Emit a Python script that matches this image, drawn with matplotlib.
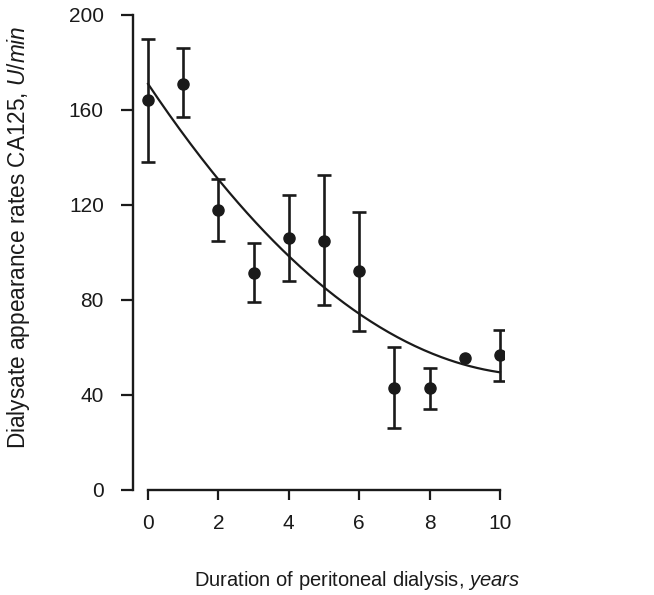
import matplotlib
matplotlib.use("Agg")
import matplotlib.pyplot as plt
import numpy as np

plt.rcParams['font.family'] = ['Liberation Sans', 'DejaVu Sans']
plt.rcParams['mathtext.fontset'] = 'custom'
plt.rcParams['mathtext.rm'] = 'Liberation Sans'
plt.rcParams['mathtext.it'] = 'Liberation Sans:italic'

years = [0, 1, 2, 3, 4, 5, 6, 7, 8, 9, 10]
means = [164, 171, 118, 91.5, 106, 105, 92, 43, 43, 55.5, 57]
upper = [190, 186, 131, 104, 124, 132.5, 117, 60, 51.5, np.nan, 67.5]
lower = [138, 157, 105, 79, 88, 78, 67, 26, 34, np.nan, 46]
fit_coeffs = [0.9975, -22.12, 171.0]  # quadratic fit: c*x^2 + b*x + a
x_ticks = [0, 2, 4, 6, 8, 10]
y_ticks = [0, 40, 80, 120, 160, 200]

ink = '#1a1a1a'
fig = plt.figure(figsize=(6.54, 5.95), dpi=100)
ax = fig.add_axes([0.2034, 0.1765, 0.567, 0.7983])

m = np.array(means, dtype=float)
up = np.array(upper, dtype=float)
lo = np.array(lower, dtype=float)
has_err = ~np.isnan(up)
yerr = np.vstack([m[has_err] - lo[has_err], up[has_err] - m[has_err]])
ax.errorbar(np.array(years)[has_err], m[has_err], yerr=yerr, fmt='none',
            ecolor=ink, elinewidth=1.9, capsize=5, capthick=1.9, zorder=3)
ax.plot(years, means, 'o', color=ink, ms=8, zorder=4)

xs = np.linspace(years[0], years[-1], 200)
ax.plot(xs, np.polyval(fit_coeffs, xs), color=ink, lw=1.6, zorder=2)

ax.set_xlim(-0.426, 10.11)
ax.set_ylim(0, 200)
ax.set_xticks(x_ticks)
ax.set_yticks(y_ticks)
ax.spines['top'].set_visible(False)
ax.spines['right'].set_visible(False)
ax.spines['bottom'].set_bounds(0, 10)
for s in ('left', 'bottom'):
    ax.spines[s].set_linewidth(1.7)
    ax.spines[s].set_color(ink)
ax.tick_params(axis='both', direction='out', width=1.6, color=ink,
               labelsize=15, labelcolor=ink)
ax.tick_params(axis='y', length=9, pad=12)
ax.tick_params(axis='x', length=7, pad=10)

fig.text(0.5466, 0.0252, r"Duration of peritoneal dialysis, $\it{years}$",
         fontsize=14.5, color=ink, ha='center', va='center')
fig.text(0.028, 0.6017, r"Dialysate appearance rates CA125, $\it{U/min}$",
         fontsize=16.3, color=ink, ha='center', va='center', rotation=90)

fig.savefig("out.png", dpi=100)
